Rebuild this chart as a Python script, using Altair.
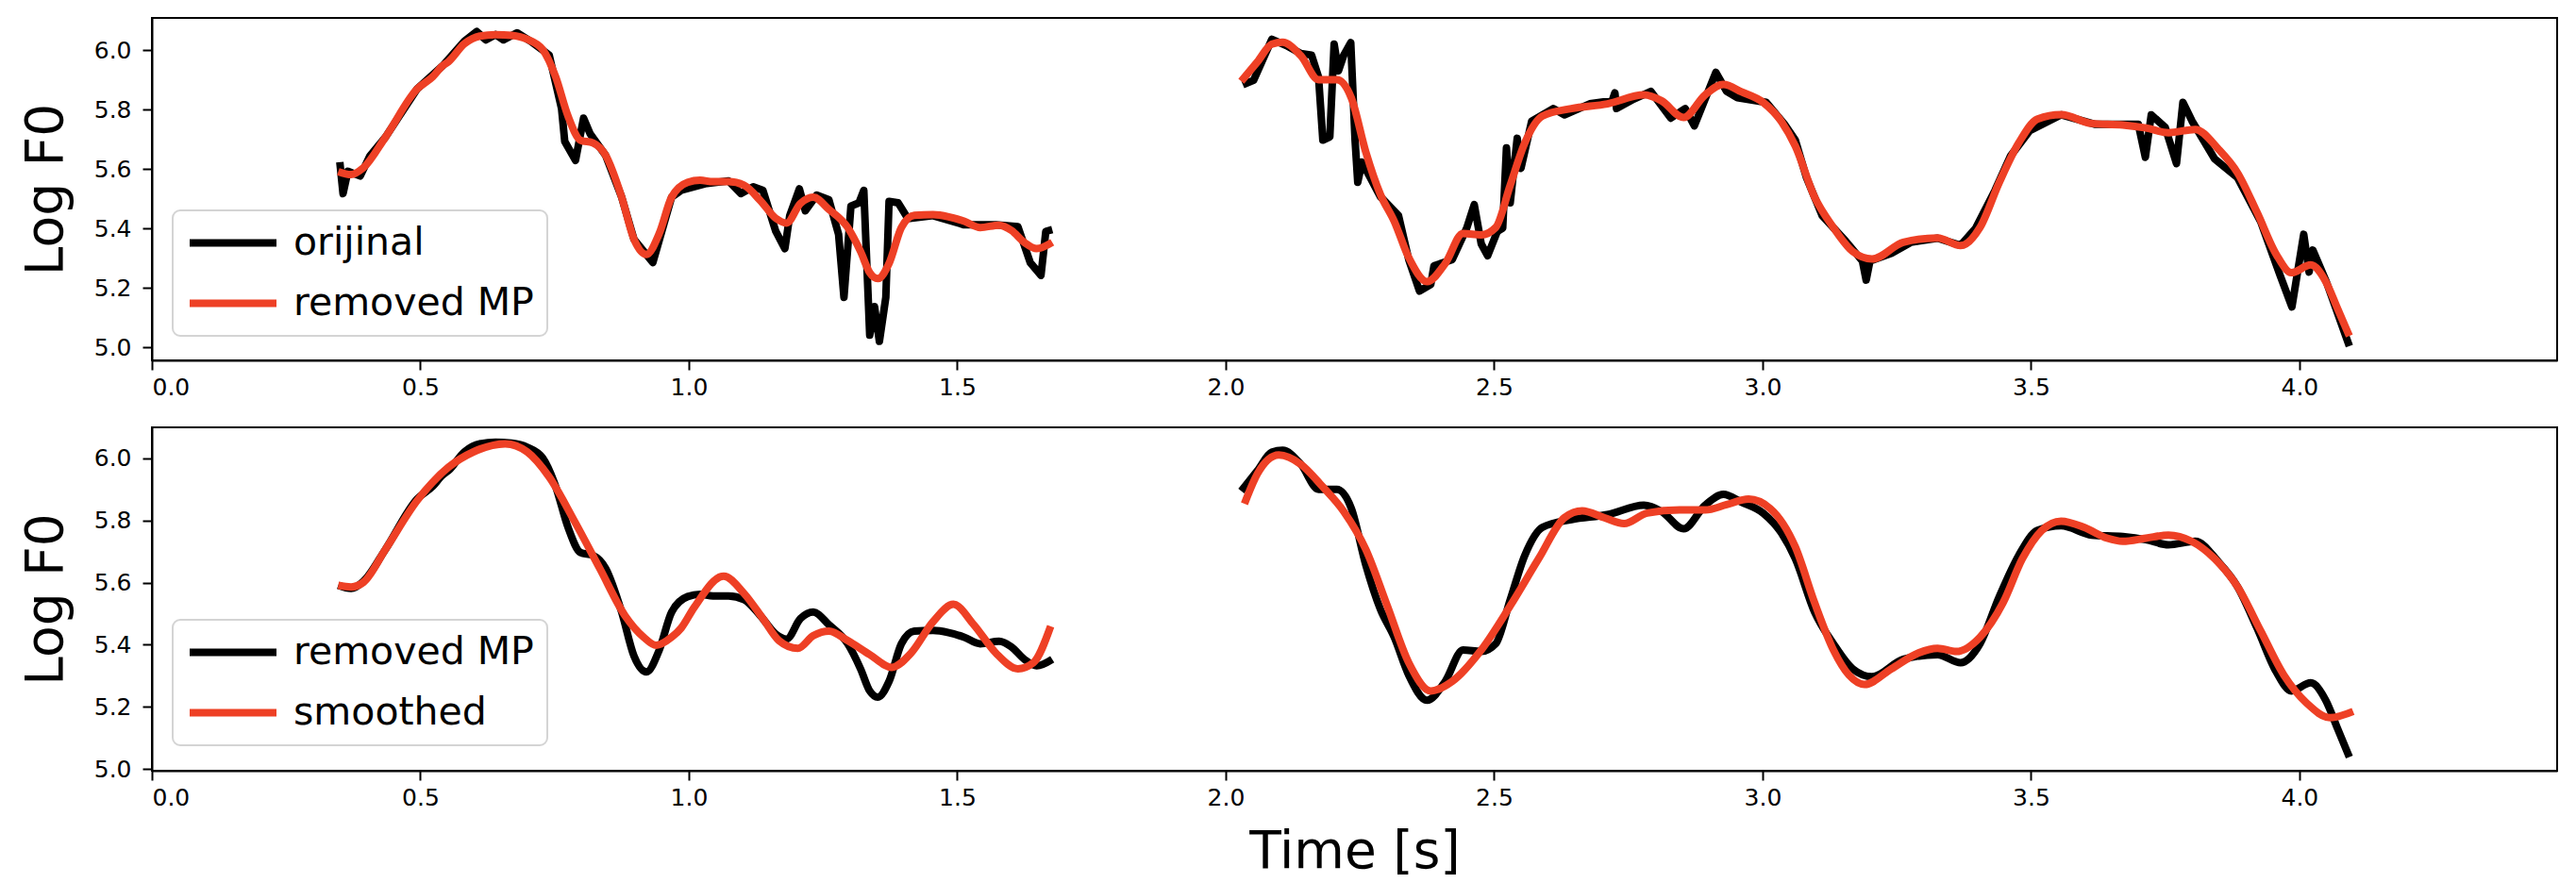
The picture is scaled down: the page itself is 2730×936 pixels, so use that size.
import altair as alt
import pandas as pd

RED = "#EE4025"

# removed MP (shared by both panels)
mp_t = [0.347, 0.371, 0.394, 0.435, 0.494, 0.523, 0.541, 0.552, 0.582, 0.611, 0.640, 0.670, 0.699, 0.728,
        0.752, 0.775, 0.798, 0.822, 0.845, 0.875, 0.898, 0.921, 0.945, 0.968, 0.998, 1.021, 1.045, 1.074,
        1.103, 1.133, 1.162, 1.182, 1.208, 1.232, 1.261, 1.296, 1.320, 1.337, 1.352, 1.373, 1.396, 1.420,
        1.455, 1.484, 1.513, 1.543, 1.578, 1.601, 1.625, 1.648, 1.677,
        2.029, 2.059, 2.086, 2.106, 2.140, 2.173, 2.207, 2.234, 2.261, 2.288, 2.314, 2.341, 2.375, 2.409,
        2.442, 2.476, 2.503, 2.530, 2.557, 2.590, 2.644, 2.711, 2.779, 2.812, 2.853, 2.893, 2.927, 2.961,
        3.001, 3.035, 3.061, 3.097, 3.132, 3.168, 3.204, 3.262, 3.326, 3.369, 3.405, 3.441, 3.477, 3.512,
        3.556, 3.613, 3.671, 3.714, 3.756, 3.806, 3.849, 3.885, 3.921, 3.957, 3.985, 4.021, 4.049, 4.071,
        4.093]
mp_y = [5.591, 5.581, 5.604, 5.707, 5.869, 5.910, 5.946, 5.960, 6.021, 6.047, 6.052, 6.049, 6.036, 6.001,
        5.910, 5.778, 5.697, 5.687, 5.646, 5.505, 5.363, 5.312, 5.383, 5.505, 5.555, 5.562, 5.557, 5.557,
        5.545, 5.494, 5.434, 5.418, 5.484, 5.505, 5.464, 5.403, 5.322, 5.251, 5.231, 5.282, 5.403, 5.444,
        5.446, 5.439, 5.424, 5.403, 5.411, 5.393, 5.353, 5.332, 5.353,
        5.895, 5.960, 6.020, 6.026, 5.981, 5.900, 5.900, 5.839, 5.657, 5.515, 5.424, 5.302, 5.221, 5.282,
        5.383, 5.378, 5.403, 5.545, 5.687, 5.778, 5.803, 5.819, 5.849, 5.829, 5.773, 5.849, 5.884, 5.859,
        5.824, 5.760, 5.677, 5.505, 5.403, 5.322, 5.297, 5.353, 5.368, 5.342, 5.403, 5.555, 5.687, 5.768,
        5.783, 5.753, 5.748, 5.738, 5.722, 5.733, 5.667, 5.586, 5.454, 5.312, 5.251, 5.277, 5.221, 5.130,
        5.038]

# orijinal
or_t = [0.350, 0.356, 0.365, 0.388, 0.406, 0.435, 0.494, 0.541, 0.582, 0.605, 0.622, 0.640, 0.655, 0.680,
        0.705, 0.740, 0.763, 0.769, 0.789, 0.804, 0.816, 0.845, 0.875, 0.898, 0.933, 0.968, 0.986, 1.030,
        1.074, 1.097, 1.120, 1.138, 1.162, 1.179, 1.188, 1.206, 1.217, 1.238, 1.261, 1.279, 1.289, 1.302,
        1.317, 1.326, 1.337, 1.346, 1.355, 1.367, 1.373, 1.390, 1.408, 1.455, 1.513, 1.572, 1.613, 1.636,
        1.656, 1.665, 1.677,
        2.032, 2.052, 2.086, 2.113, 2.140, 2.160, 2.173, 2.181, 2.194, 2.202, 2.210, 2.220, 2.233, 2.241,
        2.246, 2.254, 2.288, 2.322, 2.341, 2.361, 2.382, 2.388, 2.422, 2.449, 2.463, 2.476, 2.488, 2.506,
        2.516, 2.523, 2.530, 2.543, 2.550, 2.570, 2.610, 2.631, 2.678, 2.720, 2.725, 2.728, 2.760, 2.792,
        2.829, 2.856, 2.873, 2.913, 2.933, 2.953, 3.007, 3.041, 3.061, 3.082, 3.111, 3.154, 3.186, 3.193,
        3.200, 3.240, 3.276, 3.326, 3.369, 3.397, 3.433, 3.462, 3.498, 3.556, 3.620, 3.700, 3.713, 3.724,
        3.750, 3.771, 3.783, 3.800, 3.842, 3.885, 3.928, 3.964, 3.986, 4.008, 4.018, 4.025, 4.050, 4.093]
or_y = [5.623, 5.517, 5.592, 5.576, 5.644, 5.707, 5.869, 5.946, 6.030, 6.062, 6.034, 6.052, 6.034, 6.058,
        6.030, 5.983, 5.803, 5.692, 5.629, 5.771, 5.719, 5.646, 5.505, 5.363, 5.285, 5.505, 5.528, 5.550,
        5.560, 5.517, 5.540, 5.528, 5.390, 5.332, 5.443, 5.533, 5.459, 5.512, 5.496, 5.380, 5.168, 5.475,
        5.486, 5.528, 5.041, 5.137, 5.020, 5.168, 5.491, 5.486, 5.433, 5.443, 5.412, 5.412, 5.406, 5.285,
        5.242, 5.390, 5.396,
        5.883, 5.898, 6.036, 6.015, 5.988, 5.983, 5.909, 5.697, 5.708, 6.020, 5.930, 5.983, 6.025, 5.697,
        5.555, 5.623, 5.507, 5.443, 5.295, 5.189, 5.211, 5.274, 5.295, 5.401, 5.480, 5.348, 5.308, 5.390,
        5.401, 5.671, 5.486, 5.703, 5.602, 5.761, 5.803, 5.782, 5.819, 5.830, 5.856, 5.803, 5.835, 5.861,
        5.771, 5.803, 5.745, 5.925, 5.861, 5.840, 5.824, 5.750, 5.697, 5.570, 5.443, 5.359, 5.290, 5.226,
        5.290, 5.316, 5.353, 5.367, 5.343, 5.401, 5.528, 5.644, 5.729, 5.782, 5.750, 5.750, 5.639, 5.782,
        5.740, 5.618, 5.824, 5.761, 5.634, 5.570, 5.422, 5.242, 5.136, 5.380, 5.253, 5.327, 5.221, 5.004]

# smoothed
sm_t = [0.347, 0.371, 0.394, 0.435, 0.494, 0.552, 0.599, 0.658, 0.699, 0.740, 0.787, 0.834, 0.881, 0.916,
        0.939, 0.968, 0.986, 1.010, 1.065, 1.103, 1.138, 1.168, 1.203, 1.232, 1.261, 1.296, 1.337, 1.378,
        1.414, 1.455, 1.493, 1.531, 1.572, 1.613, 1.642, 1.674,
        2.035, 2.059, 2.099, 2.140, 2.180, 2.220, 2.261, 2.301, 2.341, 2.382, 2.422, 2.476, 2.530, 2.583,
        2.631, 2.664, 2.705, 2.742, 2.785, 2.846, 2.893, 2.933, 2.974, 3.014, 3.061, 3.097, 3.132, 3.161,
        3.190, 3.240, 3.290, 3.326, 3.361, 3.405, 3.448, 3.484, 3.520, 3.556, 3.599, 3.642, 3.671, 3.714,
        3.756, 3.799, 3.842, 3.885, 3.928, 3.971, 4.014, 4.057, 4.100]
sm_y = [5.591, 5.586, 5.601, 5.707, 5.864, 5.971, 6.021, 6.047, 6.021, 5.940, 5.798, 5.646, 5.494, 5.424,
        5.398, 5.424, 5.454, 5.520, 5.621, 5.565, 5.484, 5.413, 5.388, 5.429, 5.444, 5.413, 5.368, 5.327,
        5.373, 5.474, 5.530, 5.464, 5.373, 5.322, 5.342, 5.459,
        5.854, 5.950, 6.011, 5.981, 5.910, 5.829, 5.707, 5.525, 5.342, 5.251, 5.282, 5.383, 5.525, 5.677,
        5.809, 5.831, 5.809, 5.790, 5.824, 5.834, 5.834, 5.851, 5.869, 5.839, 5.715, 5.535, 5.383, 5.302,
        5.272, 5.322, 5.373, 5.388, 5.378, 5.424, 5.535, 5.677, 5.768, 5.798, 5.778, 5.743, 5.733, 5.743,
        5.753, 5.733, 5.677, 5.586, 5.444, 5.302, 5.211, 5.165, 5.185]

x_ticks = [0.0, 0.5, 1.0, 1.5, 2.0, 2.5, 3.0, 3.5, 4.0]
y_ticks = [5.0, 5.2, 5.4, 5.6, 5.8, 6.0]


def frame(ts, ys, name):
    return pd.DataFrame({"t": ts, "y": ys, "series": name,
                         "seg": [0 if v < 1.85 else 1 for v in ts]})


W = 2549
FONT = "DejaVu Sans"


def legend():
    return alt.Legend(orient="none", legendX=22, legendY=204, title=None,
                      symbolType="stroke", symbolSize=92 * 92, symbolStrokeWidth=8,
                      clipHeight=41, rowPadding=22, labelOffset=14, padding=14, labelLimit=0,
                      labelFontSize=41, labelFont=FONT, labelColor="black",
                      strokeColor="#d4d4d4", fillColor="white", cornerRadius=8)


def panel(df_back, df_front, domain, ydom, xtitle, height):
    x = alt.X("t:Q", scale=alt.Scale(domain=[0, 4.48], nice=False, zero=False),
              axis=alt.Axis(values=x_ticks, format=".1f", title=xtitle))
    y = alt.Y("y:Q", scale=alt.Scale(domain=ydom, nice=False, zero=False),
              axis=alt.Axis(values=y_ticks, format=".1f", title="Log F0"))
    color = alt.Color("series:N", scale=alt.Scale(domain=domain, range=["#000000", RED]),
                      legend=legend())
    back = alt.Chart(df_back).mark_line(strokeWidth=8, interpolate="linear" if domain[0] == "orijinal" else "monotone",
                                        strokeJoin="round").encode(
        x=x, y=y, color=color, detail="seg:N", order="t:Q")
    front = alt.Chart(df_front).mark_line(strokeWidth=8, interpolate="monotone", strokeJoin="round").encode(
        x=x, y=y, color=color, detail="seg:N", order="t:Q")
    return alt.layer(back, front).properties(width=W, height=height)


top = panel(frame(or_t, or_y, "orijinal"), frame(mp_t, mp_y, "removed MP"),
            ["orijinal", "removed MP"], [4.956, 6.108], None, 363)
bottom = panel(frame(mp_t, mp_y, "removed MP"), frame(sm_t, sm_y, "smoothed"),
               ["removed MP", "smoothed"], [4.994, 6.1], "Time [s]", 364)

chart = alt.vconcat(top, bottom, spacing=28).resolve_scale(
    color="independent", y="independent").resolve_legend(color="independent").properties(
    padding={"left": 20, "top": 18, "right": 10, "bottom": 10},
    background="white"
).configure_view(stroke="black", strokeWidth=2).configure_axis(
    labelFont=FONT, labelFontSize=25, labelColor="black",
    titleFont=FONT, titleFontSize=55, titleFontWeight="normal", titleColor="black",
    tickSize=10, tickWidth=2, tickColor="black", domainColor="black", domainWidth=2, grid=False
).configure_axisX(labelPadding=6, titlePadding=18).configure_axisY(
    labelPadding=12, titlePadding=22
).configure_legend(strokeWidth=2)

chart.save("out.html", embed_options={"renderer": "svg", "actions": False})
